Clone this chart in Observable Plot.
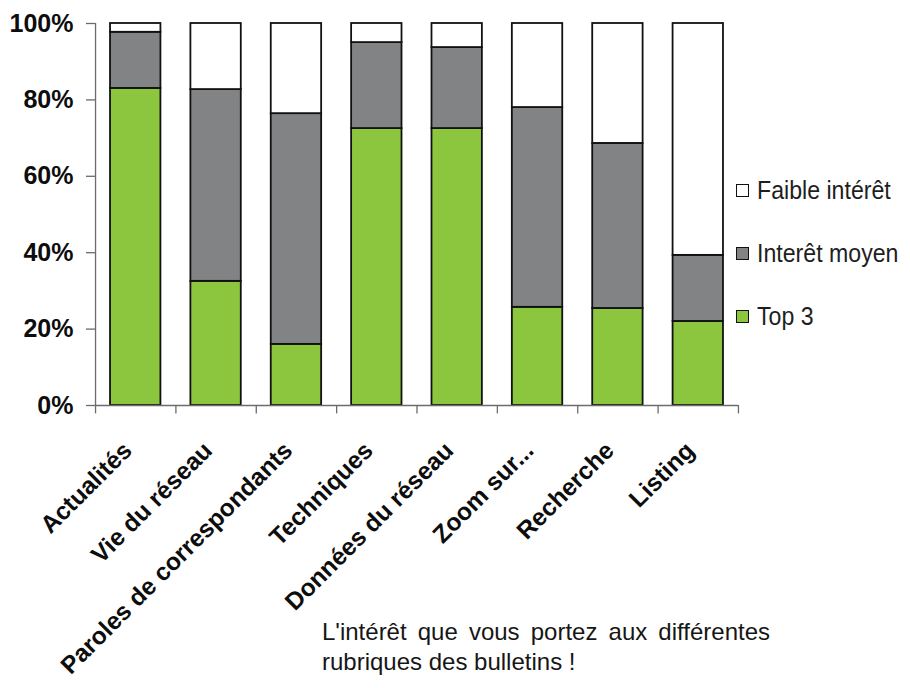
<!DOCTYPE html>
<html>
<head>
<meta charset="utf-8">
<script src="https://cdn.jsdelivr.net/npm/d3@7"></script>
<script src="https://cdn.jsdelivr.net/npm/@observablehq/plot@0.6"></script>
<style>
  html, body { margin: 0; padding: 0; background: #fff; }
  #wrap { position: relative; width: 910px; height: 688px; overflow: hidden; }
  #chart { position: absolute; left: 0; top: 0; }
  .leg-row { position: absolute; left: 736px; height: 30px; display: flex; align-items: center; white-space: nowrap; }
  .leg-sw { width: 11px; height: 11px; border: 1.6px solid #111; }
  .leg-tx { margin-left: 8px; font-family: "Liberation Sans", Arial, sans-serif; font-size: 26px; line-height: 30px; color: #1e1e1e; transform: scaleX(0.89); transform-origin: left center; }
  #caption { position: absolute; left: 322px; top: 617px; width: 448px; font-family: "Liberation Sans", Arial, sans-serif; font-size: 24px; line-height: 30px; color: #161616; }
  #caption .l1 { text-align: justify; text-align-last: justify; }
</style>
</head>
<body>
<div id="wrap">
  <div id="chart"></div>
  <div id="legend"></div>
  <div id="caption">
    <div class="l1">L'intérêt que vous portez aux différentes</div>
    <div>rubriques des bulletins !</div>
  </div>
</div>
<script>
// ---- Data ----
const categories = ["Actualités", "Vie du réseau", "Paroles de correspondants", "Techniques", "Données du réseau", "Zoom sur...", "Recherche", "Listing"];
const seriesNames = ["Top 3", "Interêt moyen", "Faible intérêt"];
const top3   = [83.0, 32.5, 16.0, 72.5, 72.5, 25.7, 25.4, 22.0];
const moyen  = [14.7, 50.2, 60.4, 22.5, 21.2, 52.3, 43.2, 17.3];
const faible = [ 2.3, 17.3, 23.6,  5.0,  6.3, 22.0, 31.4, 60.7];
const yTicks = [0, 20, 40, 60, 80, 100];
const seriesColors = ["#8cc63f", "#828385", "#ffffff"];
const legendOrder = ["Faible intérêt", "Interêt moyen", "Top 3"];

// ---- Build table ----
const seriesValues = [top3, moyen, faible];
const rows = categories.flatMap((c, i) =>
  seriesNames.map((s, k) => ({cat: c, series: s, value: seriesValues[k][i]}))
);

// ---- Layout ----
const W = 910, H = 688;
const mL = 95, mR = 172, mT = 23, mB = 283;
const pInner = 0.373, pOuter = 0.187;
const step = (W - mL - mR) / (categories.length - pInner + 2 * pOuter);
const axisColor = "#6b6b70";

const chart = Plot.plot({
  width: W,
  height: H,
  marginLeft: mL,
  marginRight: mR,
  marginTop: mT,
  marginBottom: mB,
  style: {fontFamily: "'Liberation Sans', Arial, sans-serif", background: "transparent", color: "#0d0d0d", overflow: "visible"},
  x: {domain: categories, paddingInner: pInner, paddingOuter: pOuter, round: false, label: null},
  y: {domain: [0, 100], label: null},
  color: {domain: seriesNames, range: seriesColors},
  marks: [
    Plot.barY(rows, {x: "cat", y: "value", fill: "series", stroke: "#111", strokeWidth: 1.8}),
    Plot.ruleY([0], {stroke: axisColor, strokeWidth: 1.3}),
    Plot.ruleX([categories[0]], {x: d => d, dx: -step / 2, y1: 0, y2: 100, stroke: axisColor, strokeWidth: 1.3}),
    Plot.ruleX(categories, {x: d => d, dx: -step / 2, y1: -2.2, y2: 0, stroke: axisColor, strokeWidth: 1.3}),
    Plot.ruleX([categories[categories.length - 1]], {x: d => d, dx: step / 2, y1: -2.2, y2: 0, stroke: axisColor, strokeWidth: 1.3}),
    Plot.axisY({ticks: yTicks, tickFormat: d => d + "%", tickSize: 9, tickPadding: 13, fontSize: 25, fontWeight: "bold", stroke: axisColor, strokeWidth: 1.3}),
    Plot.axisX({tickSize: 0, tickRotate: -45, tickPadding: 41, dx: -8, fontSize: 24.5, fontWeight: "bold"})
  ]
});
document.getElementById("chart").appendChild(chart);

// ---- Legend ----
const legendCenters = [190, 253, 316];
const legend = document.getElementById("legend");
legendOrder.forEach((name, i) => {
  const row = document.createElement("div");
  row.className = "leg-row";
  row.style.top = (legendCenters[i] - 15) + "px";
  const sw = document.createElement("div");
  sw.className = "leg-sw";
  sw.style.background = seriesColors[seriesNames.indexOf(name)];
  const tx = document.createElement("div");
  tx.className = "leg-tx";
  tx.textContent = name;
  row.appendChild(sw);
  row.appendChild(tx);
  legend.appendChild(row);
});
</script>
</body>
</html>
